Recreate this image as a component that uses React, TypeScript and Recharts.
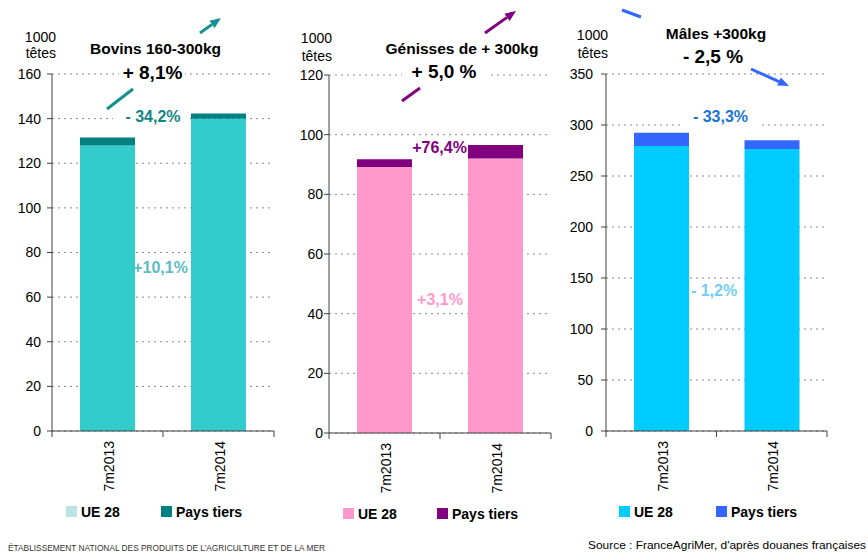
import React from 'react';
import { BarChart, Bar, XAxis, YAxis, CartesianGrid } from 'recharts';

const FONT = '"Liberation Sans", Arial, sans-serif';

// categories and values (1000 têtes)
const categories = ['7m2013', '7m2014'];

const bovinsUE = [128, 140];
const bovinsPT = [3.5, 2.3];
const bovinsTicks = [0, 20, 40, 60, 80, 100, 120, 140, 160];

const genissesUE = [89.2, 92.0];
const genissesPT = [2.6, 4.5];
const genissesTicks = [0, 20, 40, 60, 80, 100, 120];

const malesUE = [279.5, 276.4];
const malesPT = [12.8, 8.6];
const malesTicks = [0, 50, 100, 150, 200, 250, 300, 350];

const toRows = (ue: number[], pt: number[]) =>
    categories.map((c, i) => ({ name: c, ue: ue[i], pt: pt[i] }));

const AXIS = '#404040';

function CatTick(props: any) {
    const { x, y, payload, index, half } = props;
    return (
        <g>
            <line x1={x + half} y1={y} x2={x + half} y2={y + 6} stroke={AXIS} />
            {index === 0 && <line x1={x - half} y1={y} x2={x - half} y2={y + 6} stroke={AXIS} />}
            <text
                transform={`translate(${x + 6.5},${y + 10}) rotate(-90)`}
                textAnchor="end"
                fontSize={14}
                fontFamily={FONT}
                fill="#000"
            >
                {payload.value}
            </text>
        </g>
    );
}

type PanelProps = {
    left: number;
    width: number;
    yWidth: number;
    top: number;
    right: number;
    xHeight: number;
    max: number;
    ticks: number[];
    ue: number[];
    pt: number[];
    ueColor: string;
    ptColor: string;
    half: number;
    tickMargin: number;
};

function Panel(p: PanelProps) {
    const data = toRows(p.ue, p.pt);
    return (
        <div style={{ position: 'absolute', left: p.left, top: 0 }}>
            <BarChart
                width={p.width}
                height={554}
                data={data}
                margin={{ top: p.top, right: p.right, bottom: 0, left: 0 }}
            >
                <CartesianGrid vertical={false} stroke="#8a8a8a" strokeDasharray="2 4" />
                <XAxis
                    dataKey="name"
                    height={p.xHeight}
                    axisLine={{ stroke: AXIS }}
                    tickLine={false}
                    tickSize={0}
                    tickMargin={0}
                    interval={0}
                    tick={(tp: any) => <CatTick {...tp} half={p.half} />}
                />
                <YAxis
                    width={p.yWidth}
                    domain={[0, p.max]}
                    ticks={p.ticks}
                    interval={0}
                    axisLine={{ stroke: AXIS }}
                    tickLine={{ stroke: AXIS }}
                    tickSize={5}
                    tickMargin={p.tickMargin}
                    tick={{ fill: '#000', fontSize: 14, fontFamily: FONT }}
                />
                <Bar dataKey="ue" stackId="a" fill={p.ueColor} barSize={55} isAnimationActive={false} />
                <Bar dataKey="pt" stackId="a" fill={p.ptColor} barSize={55} isAnimationActive={false} />
            </BarChart>
        </div>
    );
}

function Arrow({ x1, y1, x2, y2, color }: { x1: number; y1: number; x2: number; y2: number; color: string }) {
    const a = Math.atan2(y2 - y1, x2 - x1);
    const L = 11, W = 4.5;
    const bx = x2 - L * Math.cos(a), by = y2 - L * Math.sin(a);
    const nx = -Math.sin(a) * W, ny = Math.cos(a) * W;
    return (
        <g>
            <line x1={x1} y1={y1} x2={bx} y2={by} stroke={color} strokeWidth={3} />
            <polygon points={`${x2},${y2} ${bx + nx},${by + ny} ${bx - nx},${by - ny}`} fill={color} />
        </g>
    );
}

function Seg({ x1, y1, x2, y2, color }: { x1: number; y1: number; x2: number; y2: number; color: string }) {
    return <line x1={x1} y1={y1} x2={x2} y2={y2} stroke={color} strokeWidth={3} />;
}

function T(props: any) {
    const { children, ...rest } = props;
    return (
        <text fontFamily={FONT} fill="#000" fontSize={14} {...rest}>
            {children}
        </text>
    );
}

function LegendItem({ x, y, color, label }: { x: number; y: number; color: string; label: string }) {
    return (
        <g>
            <rect x={x} y={y - 11} width={11} height={11} fill={color} />
            <T x={x + 15} y={y} fontWeight="bold">{label}</T>
        </g>
    );
}

export default function App() {
    return (
        <div style={{ position: 'absolute', left: 0, top: 0, width: 868, height: 554, background: '#fff', overflow: 'hidden' }}>
            <Panel left={0} width={290} yWidth={52} top={74} right={16} xHeight={123} max={160} ticks={bovinsTicks}
                ue={bovinsUE} pt={bovinsPT} ueColor="#33cccc" ptColor="#008080" half={55.5} tickMargin={6} />
            <Panel left={270} width={300} yWidth={59} top={75} right={19} xHeight={121} max={120} ticks={genissesTicks}
                ue={genissesUE} pt={genissesPT} ueColor="#ff99cc" ptColor="#800080" half={55.5} tickMargin={1} />
            <Panel left={560} width={308} yWidth={46} top={74} right={41} xHeight={123} max={350} ticks={malesTicks}
                ue={malesUE} pt={malesPT} ueColor="#00ccff" ptColor="#3366ff" half={55.25} tickMargin={8} />

            <svg width={868} height={554} style={{ position: 'absolute', left: 0, top: 0, pointerEvents: 'none' }}>
                {/* Bovins */}
                <Seg x1={107} y1={109} x2={133} y2={89} color="#139090" />
                <Arrow x1={200} y1={33} x2={221} y2={18} color="#139090" />
                <T x={56} y={42} textAnchor="end">1000</T>
                <T x={56} y={58} textAnchor="end">têtes</T>
                <T x={155.5} y={54} textAnchor="middle" fontWeight="bold" fontSize={15.5}>Bovins 160-300kg</T>
                <rect x={119} y={64} width={66} height={18} fill="#fff" />
                <T x={152.5} y={79} textAnchor="middle" fontWeight="bold" fontSize={19}>+ 8,1%</T>
                <rect x={113} y={108} width={77} height={17} fill="#fff" />
                <T x={153} y={122} textAnchor="middle" fontWeight="bold" fontSize={16} fill="#138484">- 34,2%</T>
                <T x={160.5} y={273} textAnchor="middle" fontWeight="bold" fontSize={16} fill="#5bbcc3">+10,1%</T>
                <LegendItem x={66} y={517} color="#bde2e2" label="UE 28" />
                <LegendItem x={161} y={517} color="#008080" label="Pays tiers" />

                {/* Génisses */}
                <Seg x1={402} y1={101} x2={420} y2={88} color="#800080" />
                <Arrow x1={485} y1={33} x2={516} y2={11} color="#800080" />
                <T x={332} y={43} textAnchor="end">1000</T>
                <T x={332} y={61} textAnchor="end">têtes</T>
                <T x={462} y={54} textAnchor="middle" fontWeight="bold" fontSize={15.5}>Génisses de + 300kg</T>
                <rect x={402} y={63} width={85} height={19} fill="#fff" />
                <T x={444} y={78} textAnchor="middle" fontWeight="bold" fontSize={19}>+ 5,0 %</T>
                <T x={439.5} y={153} textAnchor="middle" fontWeight="bold" fontSize={16} fill="#800080">+76,4%</T>
                <T x={440} y={305} textAnchor="middle" fontWeight="bold" fontSize={16} fill="#ff99cc">+3,1%</T>
                <LegendItem x={343} y={519} color="#ff99cc" label="UE 28" />
                <LegendItem x={437} y={519} color="#800080" label="Pays tiers" />

                {/* Mâles */}
                <Seg x1={622} y1={10} x2={641} y2={17} color="#3366ff" />
                <Arrow x1={751} y1={69} x2={789} y2={86} color="#3366ff" />
                <T x={608} y={40} textAnchor="end">1000</T>
                <T x={608} y={58} textAnchor="end">têtes</T>
                <T x={716} y={39} textAnchor="middle" fontWeight="bold" fontSize={15.5}>Mâles +300kg</T>
                <T x={713} y={63} textAnchor="middle" fontWeight="bold" fontSize={19}>- 2,5 %</T>
                <rect x={683} y={108} width={76} height={20} fill="#fff" />
                <T x={720.5} y={122} textAnchor="middle" fontWeight="bold" fontSize={16} fill="#1a74d4">- 33,3%</T>
                <T x={714} y={296} textAnchor="middle" fontWeight="bold" fontSize={16} fill="#72cdf8">- 1,2%</T>
                <LegendItem x={619} y={517} color="#00ccff" label="UE 28" />
                <LegendItem x={716} y={517} color="#3366ff" label="Pays tiers" />

                {/* footer */}
                <T x={8} y={551} fontSize={9} fill="#333" textLength={317} lengthAdjust="spacingAndGlyphs">
                    ÉTABLISSEMENT NATIONAL DES PRODUITS DE L’AGRICULTURE ET DE LA MER
                </T>
                <T x={588} y={549} fontSize={11.5} textLength={278} lengthAdjust="spacingAndGlyphs">
                    Source : FranceAgriMer, d'après douanes françaises
                </T>
            </svg>
        </div>
    );
}
